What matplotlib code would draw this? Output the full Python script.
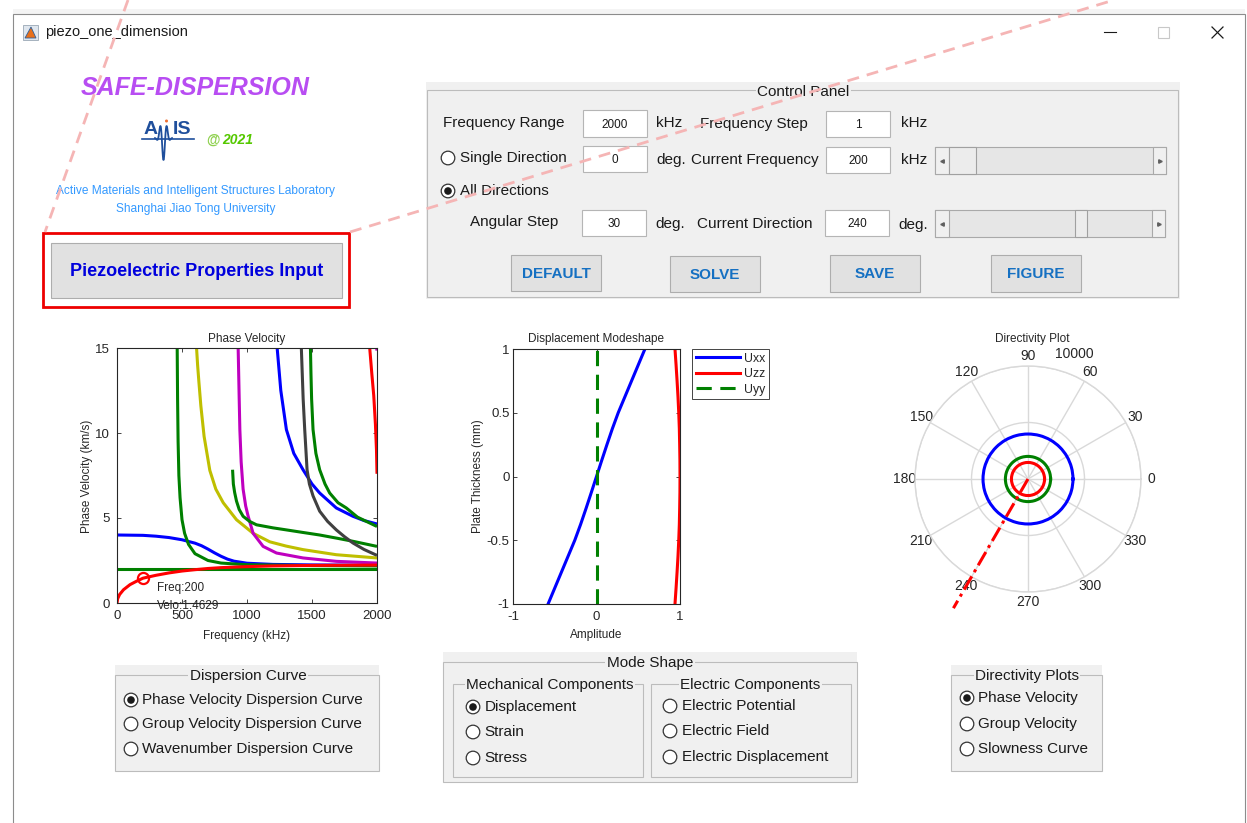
import numpy as np
import matplotlib
matplotlib.use("Agg")
import matplotlib.pyplot as plt
from matplotlib.patches import Rectangle, Circle, Polygon

W, H = 1247, 823

# ---------------- phase velocity dispersion curves (kHz, km/s) ----------------
a0_f = [0, 5, 20, 50, 100, 150, 200, 300, 400, 500, 600, 700, 800, 1000, 1200, 1500, 2000]
a0_v = [0, 0.25, 0.5, 0.78, 1.08, 1.28, 1.46, 1.63, 1.77, 1.88, 1.96, 2.03, 2.08, 2.14, 2.18, 2.21, 2.23]

sh0_f = [0, 2000]
sh0_v = [2.0, 2.0]

s0_f = [0, 200, 300, 400, 500, 600, 650, 700, 750, 800, 850, 900, 1000, 1200, 1500, 2000]
s0_v = [4.0, 3.98, 3.93, 3.85, 3.72, 3.52, 3.37, 3.17, 2.95, 2.75, 2.58, 2.46, 2.34, 2.27, 2.24, 2.22]

m4_f = [463, 466, 470, 476, 485, 500, 520, 550, 600, 700, 800, 1000, 1500, 2000]
m4_v = [15, 12, 9.5, 7.5, 6.2, 4.9, 4.1, 3.45, 2.9, 2.5, 2.35, 2.25, 2.2, 2.18]

m5_f = [612, 620, 630, 645, 670, 714, 760, 817, 919, 1047, 1175, 1300, 1431, 1687, 2000]
m5_v = [15, 14, 13, 11.6, 9.8, 7.8, 6.7, 5.9, 4.9, 4.1, 3.6, 3.35, 3.14, 2.84, 2.65]

m6_f = [932, 936, 940, 945, 955, 970, 990, 1009, 1047, 1124, 1227, 1431, 1687, 2000]
m6_v = [15, 13.5, 12, 10.2, 8.3, 6.7, 5.7, 5.1, 4.1, 3.33, 2.94, 2.65, 2.45, 2.35]

m7_f = [889, 895, 905, 919, 940, 970, 1020, 1073, 1200, 1303, 1430, 1559, 1700, 1815, 2000]
m7_v = [7.84, 7.0, 6.5, 6.0, 5.5, 5.1, 4.8, 4.6, 4.42, 4.3, 4.15, 4.0, 3.8, 3.63, 3.33]

m8_f = [1232, 1260, 1303, 1360, 1431, 1500, 1559, 1687, 1815, 1900, 2000]
m8_v = [15, 12.5, 10.2, 8.8, 7.84, 7.0, 6.47, 5.59, 5.1, 4.85, 4.65]

m9_f = [1418, 1425, 1432, 1444, 1462, 1480, 1508, 1559, 1620, 1687, 1750, 1815, 1900, 2000]
m9_v = [15, 13.5, 12, 10.2, 7.84, 7.0, 6.3, 5.4, 4.8, 4.3, 3.9, 3.53, 3.15, 2.8]

m10_f = [1488, 1492, 1497, 1508, 1530, 1559, 1600, 1636, 1700, 1764, 1850, 2000]
m10_v = [15, 13.5, 12, 10.2, 8.8, 7.84, 7.0, 6.47, 5.9, 5.59, 5.05, 4.5]

m11_f = [1944, 1960, 1975, 1988, 1996, 2000]
m11_v = [15, 13.5, 12.2, 10.5, 9.0, 7.6]

m12_f = [1997, 2000]
m12_v = [15.0, 14.85]

cur_freq = 200
cur_velo = 1.4629

# ---------------- displacement modeshape ----------------
thickness = [-1, -0.875, -0.75, -0.625, -0.5, -0.375, -0.25, -0.125, 0,
             0.125, 0.25, 0.375, 0.5, 0.625, 0.75, 0.875, 1]
uxx = [-0.58, -0.5, -0.42, -0.34, -0.26, -0.19, -0.125, -0.062, 0,
       0.062, 0.125, 0.19, 0.26, 0.34, 0.42, 0.5, 0.58]
uzz = [0.94, 0.953, 0.965, 0.976, 0.985, 0.992, 0.996, 0.999, 1.0,
       0.999, 0.996, 0.992, 0.985, 0.976, 0.965, 0.953, 0.94]
uyy = [0] * len(thickness)

# ---------------- directivity (m/s at 200 kHz) ----------------
directions = [0, 30, 60, 90, 120, 150, 180, 210, 240, 270, 300, 330, 360]
dir_s0 = [3980] * len(directions)
dir_sh0 = [2000] * len(directions)
dir_a0 = [1463] * len(directions)
cur_dir = 240
cur_dir_r = [0, 13200]

plt.rcParams["font.family"] = ["Liberation Sans", "DejaVu Sans"]
TXT = "#1a1a1a"
PANEL = "#f0f0f0"

fig = plt.figure(figsize=(W / 100, H / 100), dpi=100)
fig.patch.set_facecolor("white")

gui = fig.add_axes([0, 0, 1, 1], zorder=0)
gui.set_xlim(0, W)
gui.set_ylim(H, 0)
gui.axis("off")


def box(x0, y0, x1, y1, fc="none", ec="none", lw=0.8, z=1):
    gui.add_patch(Rectangle((x0, y0), x1 - x0, y1 - y0, facecolor=fc,
                            edgecolor=ec, linewidth=lw, zorder=z))


def label(x, y, s, size=11, color=TXT, ha="left", z=3, **kw):
    gui.text(x, y, s, fontsize=size, color=color, ha=ha, va="center", zorder=z, **kw)


def radio(x, y, s, on=False):
    gui.add_patch(Circle((x, y), 6.8, facecolor="white", edgecolor="#333333", lw=0.9, zorder=3))
    if on:
        gui.add_patch(Circle((x, y), 3.8, facecolor="#1a1a1a", edgecolor="none", zorder=4))
    label(x + 11.5, y, s)


def panel(x0, y0, x1, y1, title, tx, ha="center", bg_top=None):
    if bg_top is not None:
        box(x0, bg_top, x1, y1, fc=PANEL, z=1)
    box(x0, y0, x1, y1, ec="#bcbcbc", z=2)
    label(tx, y0 + 1, title, ha=ha, z=3,
          bbox=dict(facecolor=PANEL, edgecolor="none", pad=1))


def editbox(x0, y0, x1, y1, s):
    box(x0, y0, x1, y1, fc="white", ec="#b5b5b5", z=2)
    label((x0 + x1) / 2, (y0 + y1) / 2 + 1, s, size=8.5, ha="center")


def button(x0, y0, x1, y1, s, color="#1570c2", size=11):
    box(x0, y0, x1, y1, fc="#e1e1e1", ec="#adadad", z=2)
    label((x0 + x1) / 2, (y0 + y1) / 2 + 1, s, size=size, color=color, ha="center",
          fontweight="bold")


def slider(x0, y0, x1, y1, t0, t1):
    box(x0, y0, x1, y1, fc="#e6e6e6", ec="#a9a9a9", z=2)
    box(x0, y0, x0 + 14, y1, fc="#f0f0f0", ec="#a9a9a9", z=2)
    box(x1 - 13, y0, x1, y1, fc="#f0f0f0", ec="#a9a9a9", z=2)
    box(t0, y0, t1, y1, fc="#ececec", ec="#a0a0a0", z=3)
    ym = (y0 + y1) / 2
    gui.plot([x0 + 7], [ym], marker="<", ms=2.5, color="#606060", zorder=4)
    gui.plot([x1 - 6.5], [ym], marker=">", ms=2.5, color="#606060", zorder=4)


# ---------------- window frame ----------------
box(13, 9, 1245, 14, fc="#f4f4f4", z=0)
box(13, 14, 1245, H + 5, fc="white", ec="#8c8c8c", z=0)
box(23, 25, 38, 40, fc="#dfe6ee", ec="#9aa7b5", lw=0.6, z=2)
gui.add_patch(Polygon([[25, 38], [31, 27], [36, 38]], closed=True, facecolor="#e8701c",
                      edgecolor="#2d5f9a", lw=0.6, zorder=3))
label(45, 32, "piezo_one_dimension", size=10.5)
gui.plot([1104, 1116], [32, 32], color="#1a1a1a", lw=0.8)
box(1158, 27, 1169, 38, ec="#c8c8c8", lw=0.8, z=2)
gui.plot([1212, 1223], [27, 38], color="#1a1a1a", lw=0.9)
gui.plot([1212, 1223], [38, 27], color="#1a1a1a", lw=0.9)

# ---------------- logo block ----------------
label(195, 88, "SAFE-DISPERSION", size=18, color="#b84df2", ha="center",
      fontweight="bold", fontstyle="italic")
label(151, 129, "A", size=14, color="#1f4f9c", ha="center", fontweight="bold")
label(182, 129, "IS", size=14, color="#1f4f9c", ha="center", fontweight="bold")
gui.plot([142, 194], [139, 139], color="#1f4f9c", lw=1.2, zorder=3)
wx = np.linspace(155, 172, 80)
wy = 138 + 22 * np.exp(-((wx - 163.5) / 4.2) ** 2) * np.cos((wx - 163.5) * 0.9)
gui.plot(wx, wy, color="#1f4f9c", lw=1.3, zorder=4)
gui.add_patch(Circle((166.5, 121), 1.5, facecolor="#f07030", edgecolor="none", zorder=5))
label(206, 140, "@", size=10, color="#8fd14f", fontweight="bold")
label(222, 140, "2021", size=10, color="#55c800", fontweight="bold", fontstyle="italic")
label(196, 191, "Active Materials and Intelligent Structures Laboratory", size=8.6,
      color="#3399ff", ha="center")
label(196, 209, "Shanghai Jiao Tong University", size=8.6, color="#3399ff", ha="center")

box(43, 233, 349, 307, ec="#ee0000", lw=2.0, z=2)
button(51, 243, 342, 298, "Piezoelectric Properties Input", color="#0000dd", size=13)

# ---------------- control panel ----------------
box(426, 82, 1180, 299, fc=PANEL, z=1)
box(427, 90, 1178, 297, ec="#bcbcbc", z=2)
label(803, 92, "Control Panel", ha="center", bbox=dict(facecolor=PANEL, edgecolor="none", pad=1))

label(443, 123, "Frequency Range")
editbox(583, 110, 647, 137, "2000")
label(656, 123, "kHz")
label(700, 124, "Frequency Step")
editbox(826, 111, 890, 137, "1")
label(901, 123, "kHz")

radio(448, 158, "Single Direction")
editbox(583, 146, 647, 172, "0")
label(656, 160, "deg.")
label(691, 160, "Current Frequency")
editbox(826, 147, 890, 173, "200")
label(901, 160, "kHz")
slider(935, 147, 1166, 174, 949, 976)

radio(448, 191, "All Directions", on=True)

label(470, 222, "Angular Step")
editbox(582, 210, 646, 236, "30")
label(655, 224, "deg.")
label(697, 224, "Current Direction")
editbox(825, 210, 889, 236, "240")
label(898, 225, "deg.")
slider(935, 210, 1165, 237, 1075, 1087)

button(511, 255, 601, 291, "DEFAULT")
button(670, 256, 760, 292, "SOLVE")
button(830, 255, 920, 292, "SAVE")
button(991, 255, 1081, 292, "FIGURE")

# ---------------- bottom panels ----------------
panel(115, 675, 379, 771, "Dispersion Curve", 248, bg_top=665)
radio(131, 700, "Phase Velocity Dispersion Curve", on=True)
radio(131, 724, "Group Velocity Dispersion Curve")
radio(131, 749, "Wavenumber Dispersion Curve")

panel(443, 662, 857, 782, "Mode Shape", 650, bg_top=652)
panel(453, 684, 643, 777, "Mechanical Components", 466, ha="left")
panel(651, 684, 851, 777, "Electric Components", 750)
radio(473, 707, "Displacement", on=True)
radio(473, 732, "Strain")
radio(473, 758, "Stress")
radio(670, 706, "Electric Potential")
radio(670, 731, "Electric Field")
radio(670, 757, "Electric Displacement")

panel(951, 675, 1102, 771, "Directivity Plots", 1027, bg_top=665)
radio(967, 698, "Phase Velocity", on=True)
radio(967, 724, "Group Velocity")
radio(967, 749, "Slowness Curve")


# ---------------- plot axes ----------------
def px_axes(l, t, r, b, **kw):
    return fig.add_axes([l / W, 1 - b / H, (r - l) / W, (b - t) / H], zorder=2, **kw)


def style(ax, ypad):
    for sp in ax.spines.values():
        sp.set_color("#262626")
        sp.set_linewidth(0.8)
    ax.tick_params(direction="in", length=3, width=0.6, labelsize=9.5,
                   colors="#262626", top=True, right=True)
    ax.tick_params(axis="x", pad=5)
    ax.tick_params(axis="y", pad=ypad)


GREEN, BLUE, RED = "#008000", "#0000ff", "#ff0000"
YELLOW, MAGENTA, DARK = "#bfbf00", "#bf00bf", "#404040"

ax1 = px_axes(117, 348, 377, 603)
curves = [(s0_f, s0_v, BLUE), (m4_f, m4_v, GREEN), (m5_f, m5_v, YELLOW),
          (m6_f, m6_v, MAGENTA), (m7_f, m7_v, GREEN), (m8_f, m8_v, BLUE),
          (m9_f, m9_v, DARK), (m10_f, m10_v, GREEN), (m11_f, m11_v, RED),
          (m12_f, m12_v, MAGENTA), (sh0_f, sh0_v, GREEN), (a0_f, a0_v, RED)]
for f, v, c in curves:
    ax1.plot(f, v, color=c, lw=2.2, solid_capstyle="butt")
ax1.plot([cur_freq], [cur_velo], "o", mfc="none", mec=RED, ms=8, mew=1.6)
ax1.annotate(f"Freq:{cur_freq}", (cur_freq, cur_velo), xytext=(10, -7),
             textcoords="offset points", fontsize=8.5, color="#262626", va="center",
             annotation_clip=False)
ax1.annotate(f"Velo:{cur_velo}", (cur_freq, cur_velo), xytext=(10, -20),
             textcoords="offset points", fontsize=8.5, color="#262626", va="center",
             annotation_clip=False)
ax1.set_xlim(0, 2000)
ax1.set_ylim(0, 15)
ax1.set_xticks([0, 500, 1000, 1500, 2000])
ax1.set_yticks([0, 5, 10, 15])
style(ax1, 5)
label(247, 339, "Phase Velocity", size=8.5, color="#262626", ha="center")
label(247, 636, "Frequency (kHz)", size=8.5, color="#262626", ha="center")
label(87, 476, "Phase Velocity (km/s)", size=8.5, color="#262626", ha="center", rotation=90)

ax2 = px_axes(513, 349, 680, 604)
ax2.plot(uxx, thickness, color=BLUE, lw=2.2, label="Uxx")
ax2.plot(uzz, thickness, color=RED, lw=2.2, label="Uzz")
ax2.plot(uyy, thickness, color=GREEN, lw=2.2, ls=(0, (5, 2.8)), label="Uyy")
ax2.set_xlim(-1, 1)
ax2.set_ylim(-1, 1)
ax2.set_xticks([-1, 0, 1])
ax2.set_yticks([-1, -0.5, 0, 0.5, 1])
ax2.set_yticklabels(["-1", "-0.5", "0", "0.5", "1"])
ax2.set_xticklabels(["-1", "0", "1"])
style(ax2, 2.5)
leg = ax2.legend(loc="upper left", bbox_to_anchor=(692 / W, 1 - 349 / H),
                 bbox_transform=fig.transFigure, fontsize=8.8, frameon=True, fancybox=False,
                 framealpha=1, edgecolor="#262626", handlelength=3.6, handletextpad=0.35,
                 borderpad=0.3, labelspacing=0.28, borderaxespad=0)
leg.get_frame().set_linewidth(0.6)
for t in leg.get_texts():
    t.set_color("#262626")
label(596, 339, "Displacement Modeshape", size=8.5, color="#262626", ha="center")
label(596, 635, "Amplitude", size=8.5, color="#262626", ha="center")
label(478, 476, "Plate Thickness (mm)", size=8.5, color="#262626", ha="center", rotation=90)

ax3 = px_axes(915, 366, 1141, 592, projection="polar")
th = np.deg2rad(directions)
for r, c in [(dir_s0, BLUE), (dir_sh0, GREEN), (dir_a0, RED)]:
    ln, = ax3.plot(th, r, color=c, lw=2.2, zorder=3)
    ln.get_path()._interpolation_steps = 2
ax3.plot(np.deg2rad([cur_dir, cur_dir]), cur_dir_r, color=RED, lw=2.2,
         ls=(0, (5, 1.6, 1, 1.6)), clip_on=False, zorder=4)
ax3.set_rlim(0, 10000)
ax3.set_rticks([5000, 10000])
ax3.set_yticklabels([])
ax3.set_thetagrids(list(range(0, 360, 30)), labels=[str(a) for a in range(0, 360, 30)])
ax3.tick_params(axis="x", labelsize=10, colors="#262626", pad=-3)
ax3.grid(color="#d9d9d9", lw=1.0)
ax3.spines["polar"].set_color("#d9d9d9")
ax3.spines["polar"].set_linewidth(1.0)
label(1032, 339, "Directivity Plot", size=8.5, color="#262626", ha="center")
label(1062, 411, "5000", size=10, color="#262626", ha="center", z=5)
label(1074, 354, "10000", size=10, color="#262626", ha="center", z=5)

# ---------------- pink dashed guide lines ----------------
over = fig.add_axes([0, 0, 1, 1], zorder=10)
over.set_xlim(0, W)
over.set_ylim(H, 0)
over.axis("off")
over.patch.set_alpha(0)
over.plot([128, 45], [0, 232], color="#f5b5b5", lw=2, dashes=(4.3, 2.9))
over.plot([350, 1114], [232, 0], color="#f5b5b5", lw=2, dashes=(4.3, 2.9))

fig.savefig("out.png", dpi=100)
